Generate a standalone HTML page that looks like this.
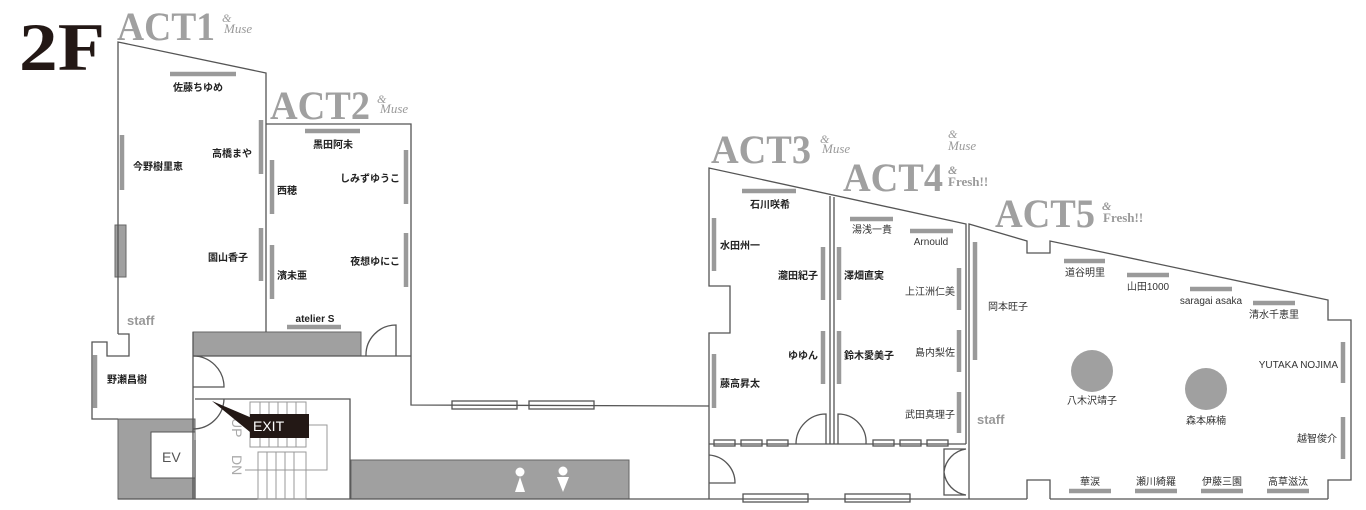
<!DOCTYPE html>
<html><head><meta charset="utf-8"><style>
html,body{margin:0;padding:0;background:#fff;width:1366px;height:510px;overflow:hidden}
svg{display:block}
.w{fill:none;stroke:#555;stroke-width:1.3}
.b{stroke:#9a9a9a;stroke-width:4.5}
.jb{font-family:"Liberation Sans","Noto Sans CJK JP",sans-serif;font-size:10px;font-weight:bold;fill:#222}
.jr{font-family:"Liberation Sans","Noto Sans CJK JP",sans-serif;font-size:10px;fill:#333}
.act{font-family:"Liberation Serif",serif;font-weight:bold;font-size:40px;fill:#a0a0a0}
.sm{font-family:"Liberation Serif",serif;font-style:italic;fill:#9a9a9a}
.st{stroke:#999;stroke-width:1;fill:none}
</style></head><body>
<svg width="1366" height="510" viewBox="0 0 1366 510" xmlns="http://www.w3.org/2000/svg">
<text x="19" y="70" font-family="Liberation Serif,serif" font-weight="bold" font-size="68" fill="#231815" textLength="86" lengthAdjust="spacingAndGlyphs">2F</text>
<text class="act" x="117" y="40" textLength="98" lengthAdjust="spacingAndGlyphs">ACT1</text>
<text class="sm" x="222" y="22" font-size="12">&amp;</text><text class="sm" x="224" y="33" font-size="13">Muse</text>
<text class="act" x="270" y="119" textLength="100" lengthAdjust="spacingAndGlyphs">ACT2</text>
<text class="sm" x="377" y="103" font-size="12">&amp;</text><text class="sm" x="380" y="113" font-size="13">Muse</text>
<text class="act" x="711" y="163" textLength="100" lengthAdjust="spacingAndGlyphs">ACT3</text>
<text class="sm" x="820" y="143" font-size="12">&amp;</text><text class="sm" x="822" y="153" font-size="13">Muse</text>
<text class="sm" x="948" y="138" font-size="12">&amp;</text><text class="sm" x="948" y="150" font-size="13">Muse</text>
<text class="act" x="843" y="191" textLength="100" lengthAdjust="spacingAndGlyphs">ACT4</text>
<text class="sm" x="948" y="174" font-size="12" font-weight="bold">&amp;</text><text x="948" y="186" font-family="Liberation Serif,serif" font-weight="bold" font-size="13" fill="#9a9a9a">Fresh!!</text>
<text class="act" x="995" y="227" textLength="100" lengthAdjust="spacingAndGlyphs">ACT5</text>
<text class="sm" x="1102" y="210" font-size="12" font-weight="bold">&amp;</text><text x="1103" y="222" font-family="Liberation Serif,serif" font-weight="bold" font-size="13" fill="#9a9a9a">Fresh!!</text>

<rect x="118" y="419" width="77" height="80" fill="#a0a0a0" stroke="#666"/>
<rect x="151" y="432" width="44" height="46" fill="#fff" stroke="#555"/>
<text x="162" y="462" font-family="Liberation Sans,sans-serif" font-size="14" fill="#555">EV</text>
<rect x="193" y="332" width="168" height="24" fill="#a0a0a0" stroke="#666"/>
<rect x="351" y="460" width="278" height="39" fill="#a0a0a0" stroke="#666"/>
<rect x="115" y="225" width="11" height="52" fill="#a0a0a0" stroke="#666"/>
<circle cx="520" cy="472" r="4.5" fill="#fff"/><polygon points="520,477 515,492 525,492" fill="#fff"/>
<circle cx="563" cy="471" r="4.5" fill="#fff"/><polygon points="557,477 569,477 563,492" fill="#fff"/>

<polyline class="w" points="118,334 118,42 266,73 266,332"/>
<polyline class="w" points="118,334 129,334 129,356 107,356 107,342 92,342 92,419 118,419"/>
<polyline class="w" points="266,124 411,124 411,405 709,406"/>
<line class="w" x1="193" y1="356" x2="411" y2="356"/>
<line class="w" x1="193" y1="332" x2="193" y2="499"/>
<polyline class="w" points="195,399 350,399 350,499"/>
<line class="w" x1="118" y1="499" x2="1027" y2="499"/>
<line class="w" x1="1050" y1="499" x2="1328" y2="499"/>
<path class="w" d="M396,356 V325 A30,30 0 0 0 366,356"/>
<path class="w" d="M193,356 A31,31 0 0 1 224,387 H193"/>
<path class="w" d="M193,429 A31,31 0 0 0 224,399"/>
<line class="w" x1="195" y1="440" x2="195" y2="499"/>
<g class="st">
<rect x="250" y="402" width="56" height="45"/><rect x="258" y="452" width="48" height="47"/>
<line x1="260" y1="402" x2="260" y2="447"/><line x1="269" y1="402" x2="269" y2="447"/><line x1="278" y1="402" x2="278" y2="447"/><line x1="287" y1="402" x2="287" y2="447"/><line x1="296" y1="402" x2="296" y2="447"/>
<line x1="267" y1="452" x2="267" y2="499"/><line x1="276" y1="452" x2="276" y2="499"/><line x1="285" y1="452" x2="285" y2="499"/><line x1="294" y1="452" x2="294" y2="499"/>
<polyline points="306,425 327,425 327,470 245,470"/>
</g>
<text transform="translate(232,418) rotate(90)" font-family="Liberation Sans,sans-serif" font-size="14" fill="#aaa">UP</text>
<text transform="translate(232,455) rotate(90)" font-family="Liberation Sans,sans-serif" font-size="14" fill="#aaa">DN</text>
<polygon points="212,401 252,418 250,432" fill="#231815"/>
<rect x="250" y="414" width="59" height="24" fill="#231815"/>
<text x="253" y="431" font-family="Liberation Sans,sans-serif" font-size="14" fill="#fff">EXIT</text>
<rect class="w" x="452" y="401" width="65" height="8" stroke-width="1"/>
<rect class="w" x="529" y="401" width="65" height="8" stroke-width="1"/>

<polyline class="w" points="709,499 709,333 730,333 730,286 709,286 709,168 966,224 966,444"/>
<line class="w" x1="830" y1="196" x2="830" y2="444"/><line class="w" x1="834" y1="197" x2="834" y2="444"/>
<line class="w" x1="709" y1="444" x2="966" y2="444"/>
<g class="w" stroke-width="1">
<rect x="714" y="440" width="21" height="6"/><rect x="741" y="440" width="21" height="6"/><rect x="767" y="440" width="21" height="6"/>
<rect x="873" y="440" width="21" height="6"/><rect x="900" y="440" width="21" height="6"/><rect x="927" y="440" width="21" height="6"/>
<rect x="743" y="494" width="65" height="8"/><rect x="845" y="494" width="65" height="8"/>
</g>
<path class="w" d="M826,444 V414 A30,30 0 0 0 796,444"/>
<path class="w" d="M838,444 V414 A28,28 0 0 1 866,444"/>
<path class="w" d="M709,455 A28,28 0 0 1 735,483 H709"/>
<path class="w" d="M966,449 H944 V495 H966 M966,449 A26,26 0 0 0 944,472 A26,26 0 0 0 966,495"/>
<polyline class="w" points="969,499 969,224 1027,241 1027,253 1050,253 1050,241 1328,300 1328,320 1351,320 1351,480 1328,480 1328,499"/>
<polyline class="w" points="1027,499 1027,480 1050,480 1050,499"/>
<circle cx="1092" cy="371" r="21" fill="#a0a0a0"/><circle cx="1206" cy="389" r="21" fill="#a0a0a0"/>

<g class="b">
<line x1="170" y1="74" x2="236" y2="74"/><line x1="122" y1="135" x2="122" y2="190"/><line x1="261" y1="120" x2="261" y2="174"/><line x1="261" y1="228" x2="261" y2="281"/><line x1="95" y1="355" x2="95" y2="408"/>
<line x1="305" y1="131" x2="360" y2="131"/><line x1="272" y1="160" x2="272" y2="214"/><line x1="406" y1="150" x2="406" y2="204"/><line x1="272" y1="245" x2="272" y2="299"/><line x1="406" y1="233" x2="406" y2="287"/><line x1="287" y1="327" x2="341" y2="327"/>
<line x1="742" y1="191" x2="796" y2="191"/><line x1="714" y1="218" x2="714" y2="271"/><line x1="823" y1="247" x2="823" y2="300"/><line x1="714" y1="354" x2="714" y2="408"/><line x1="823" y1="331" x2="823" y2="384"/>
<line x1="850" y1="219" x2="893" y2="219"/><line x1="910" y1="231" x2="953" y2="231"/><line x1="839" y1="247" x2="839" y2="300"/><line x1="959" y1="268" x2="959" y2="310"/><line x1="839" y1="331" x2="839" y2="384"/><line x1="959" y1="330" x2="959" y2="372"/><line x1="959" y1="392" x2="959" y2="433"/>
<line x1="975" y1="242" x2="975" y2="360"/>
<line x1="1064" y1="261" x2="1105" y2="261"/><line x1="1127" y1="275" x2="1169" y2="275"/><line x1="1190" y1="289" x2="1232" y2="289"/><line x1="1253" y1="303" x2="1295" y2="303"/>
<line x1="1343" y1="342" x2="1343" y2="383"/><line x1="1343" y1="417" x2="1343" y2="459"/>
<line x1="1069" y1="491" x2="1111" y2="491"/><line x1="1135" y1="491" x2="1177" y2="491"/><line x1="1201" y1="491" x2="1243" y2="491"/><line x1="1267" y1="491" x2="1309" y2="491"/>
</g>

<g class="jb">
<text x="198" y="91" text-anchor="middle">佐藤ちゆめ</text>
<text x="133" y="170">今野樹里恵</text>
<text x="252" y="157" text-anchor="end">高橋まや</text>
<text x="248" y="261" text-anchor="end">園山香子</text>
<text x="107" y="383">野瀬昌樹</text>
<text x="333" y="148" text-anchor="middle">黒田阿未</text>
<text x="277" y="194">西穂</text>
<text x="400" y="182" text-anchor="end">しみずゆうこ</text>
<text x="277" y="279">濱未亜</text>
<text x="400" y="265" text-anchor="end">夜想ゆにこ</text>
<text x="315" y="322" text-anchor="middle">atelier S</text>
<text x="770" y="208" text-anchor="middle">石川咲希</text>
<text x="720" y="249">水田州一</text>
<text x="818" y="279" text-anchor="end">瀧田紀子</text>
<text x="720" y="387">藤高昇太</text>
<text x="818" y="359" text-anchor="end">ゆゆん</text>
<text x="844" y="279">澤畑直実</text>
<text x="844" y="359">鈴木愛美子</text>
</g>
<g class="jr">
<text x="872" y="233" text-anchor="middle">湯浅一貴</text>
<text x="931" y="245" text-anchor="middle">Arnould</text>
<text x="955" y="295" text-anchor="end">上江洲仁美</text>
<text x="955" y="356" text-anchor="end">島内梨佐</text>
<text x="955" y="418" text-anchor="end">武田真理子</text>
<text x="988" y="310">岡本旺子</text>
<text x="1085" y="276" text-anchor="middle">道谷明里</text>
<text x="1148" y="290" text-anchor="middle">山田1000</text>
<text x="1211" y="304" text-anchor="middle">saragai asaka</text>
<text x="1274" y="318" text-anchor="middle">清水千恵里</text>
<text x="1092" y="404" text-anchor="middle">八木沢靖子</text>
<text x="1206" y="424" text-anchor="middle">森本麻楠</text>
<text x="1338" y="368" text-anchor="end">YUTAKA NOJIMA</text>
<text x="1337" y="442" text-anchor="end">越智俊介</text>
<text x="1090" y="485" text-anchor="middle">華涙</text>
<text x="1156" y="485" text-anchor="middle">瀬川綺羅</text>
<text x="1222" y="485" text-anchor="middle">伊藤三園</text>
<text x="1288" y="485" text-anchor="middle">高草滋汰</text>
</g>
<text x="127" y="325" font-family="Liberation Sans,sans-serif" font-weight="bold" font-size="13" fill="#999">staff</text>
<text x="977" y="424" font-family="Liberation Sans,sans-serif" font-weight="bold" font-size="13" fill="#999">staff</text>
</svg>
</body></html>
